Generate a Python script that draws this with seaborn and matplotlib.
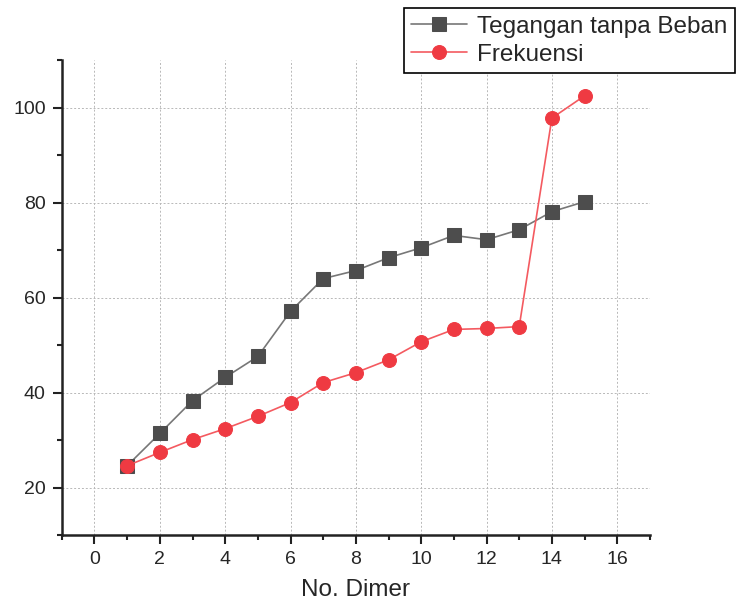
import numpy as np
import pandas as pd
import matplotlib
matplotlib.use('Agg')
import matplotlib.pyplot as plt
from matplotlib.ticker import MultipleLocator
import seaborn as sns

# Data
dimer = [1, 2, 3, 4, 5, 6, 7, 8, 9, 10, 11, 12, 13, 14, 15]
tegangan = [24.6, 31.4, 38.3, 43.2, 47.6, 57.1, 64.0, 65.7, 68.4, 70.5, 73.1, 72.2, 74.3, 78.1, 80.2]
frekuensi = [24.6, 27.4, 30.1, 32.4, 35.0, 37.9, 42.1, 44.2, 46.9, 50.7, 53.3, 53.5, 53.9, 97.8, 102.5]
series_names = ['Tegangan tanpa Beban', 'Frekuensi']

df = pd.DataFrame({
    'No. Dimer': dimer * 2,
    'value': tegangan + frekuensi,
    'series': [series_names[0]] * len(dimer) + [series_names[1]] * len(dimer),
})

sns.set_style('ticks')
plt.rcParams['font.family'] = ['Liberation Sans', 'DejaVu Sans']

fig = plt.figure(figsize=(7.36, 6.08), dpi=100)
ax = fig.add_axes([0.084, 0.12, 0.799, 0.781])

ax.grid(True, which='major', color='#b8b8b8', linestyle=(0, (2, 2)), linewidth=0.7)

sns.lineplot(data=df[df['series'] == series_names[0]], x='No. Dimer', y='value', ax=ax,
             color='#777777', marker='s', markersize=10, markerfacecolor='#4d4d4d',
             markeredgecolor='#4d4d4d', linewidth=1.2, label=series_names[0], zorder=3)
sns.lineplot(data=df[df['series'] == series_names[1]], x='No. Dimer', y='value', ax=ax,
             color='#f45a60', marker='o', markersize=10, markerfacecolor='#ef3a42',
             markeredgecolor='#ef3a42', linewidth=1.2, label=series_names[1], zorder=4)

ax.set_xlim(-1, 17)
ax.set_ylim(10, 110)
ax.xaxis.set_major_locator(MultipleLocator(2))
ax.xaxis.set_minor_locator(MultipleLocator(1))
ax.yaxis.set_major_locator(MultipleLocator(20))
ax.yaxis.set_minor_locator(MultipleLocator(10))
ax.tick_params(which='major', length=6.5, width=1.5, labelsize=14, color='#222222', pad=5)
ax.tick_params(which='minor', length=3.5, width=1.5, color='#222222')

for side in ['top', 'right']:
    ax.spines[side].set_visible(False)
for side in ['left', 'bottom']:
    ax.spines[side].set_linewidth(1.8)
    ax.spines[side].set_color('#222222')

ax.set_xlabel('No. Dimer', fontsize=17.5, labelpad=8)
ax.set_ylabel('')

leg = ax.legend(loc='upper right', bbox_to_anchor=(1.144, 1.109), fontsize=17.5,
                frameon=True, fancybox=False, edgecolor='black', framealpha=1,
                borderpad=0.3, handlelength=2.3, handletextpad=0.4, labelspacing=0.25,
                borderaxespad=0)
leg.get_frame().set_linewidth(1.2)

fig.savefig('out.png', dpi=100)
